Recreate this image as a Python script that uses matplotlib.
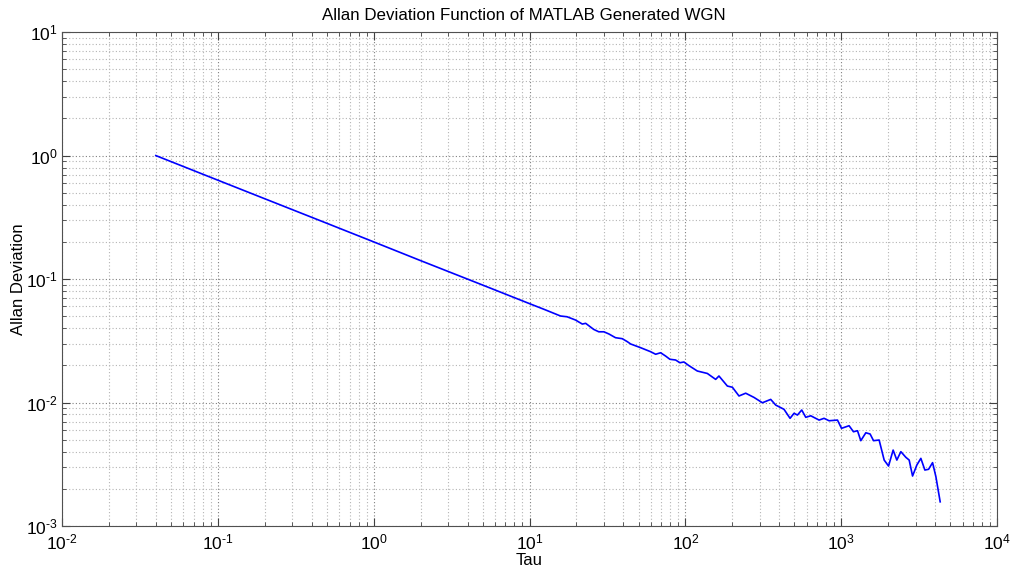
import matplotlib
matplotlib.use("Agg")
import matplotlib.pyplot as plt
from matplotlib.ticker import LogLocator, NullFormatter, FixedLocator

plt.rcParams["font.family"] = ["Liberation Sans", "DejaVu Sans"]
plt.rcParams["mathtext.fontset"] = "custom"
plt.rcParams["mathtext.rm"] = "Liberation Sans"
plt.rcParams["mathtext.it"] = "Liberation Sans"

# Allan deviation (tau, adev)
tau = [0.04, 0.1, 0.2, 0.5, 1.0, 2.0, 5.0, 10.0, 12.5,
       15.8, 17.4, 19.7, 21.8, 22.9, 25.8, 27.8, 30.0, 32.3, 35.6,
       39.3, 42.4, 44.5, 51.6, 59.8, 64.4, 69.3, 74.6, 79.5, 86.5,
       92.2, 97.8, 105.3, 119.2, 138.2, 156.3, 164.1, 185.8, 200.1, 220.6,
       243.6, 275.4, 311.8, 352.5, 379.5, 429.1, 469.1, 497.6, 523.2, 557.5,
       591.6, 637.1, 720.2, 775.3, 834.8, 945.3, 1003, 1122, 1197, 1271,
       1334, 1437, 1531, 1610, 1749, 1884, 2010, 2151, 2272, 2411,
       2596, 2726, 2866, 3054, 3240, 3437, 3631, 3852, 4045, 4310]
adev = [1.0, 0.632, 0.447, 0.283, 0.2, 0.141, 0.0894, 0.0632, 0.0566,
        0.0502, 0.0495, 0.0466, 0.0432, 0.0438, 0.0391, 0.0374, 0.0374, 0.0359, 0.0335,
        0.0329, 0.0311, 0.0298, 0.0278, 0.0258, 0.0246, 0.0253, 0.0238, 0.0224, 0.0221,
        0.0210, 0.0213, 0.0199, 0.0180, 0.0172, 0.0154, 0.0164, 0.0136, 0.0133, 0.0113,
        0.0119, 0.0110, 0.00996, 0.0106, 0.00954, 0.00881, 0.00745, 0.00818, 0.00792, 0.00870,
        0.00759, 0.00781, 0.00721, 0.00745, 0.00712, 0.00721, 0.00618, 0.00649, 0.00580, 0.00591,
        0.00491, 0.00569, 0.00556, 0.00491, 0.00497, 0.00342, 0.00306, 0.00412, 0.00342, 0.00400,
        0.00360, 0.00342, 0.00254, 0.00312, 0.00353, 0.00284, 0.00288, 0.00326, 0.00251, 0.00157]

x_decades = [-2, -1, 0, 1, 2, 3, 4]
y_decades = [-3, -2, -1, 0, 1]


def decade_label(d):
    # short hyphen like MATLAB's superscript, not the wide math minus
    exp = str(d).replace("-", "\u2010")
    return r"$10^{%s}$" % exp


fig = plt.figure(figsize=(10.11, 5.73), dpi=100)
ax = fig.add_axes([0.0613, 0.082, 0.925, 0.862])
ax.loglog(tau, adev, color="#0000ff", linewidth=1.2)

ax.set_xlim(1e-2, 1e4)
ax.set_ylim(1e-3, 1e1)
ax.xaxis.set_major_locator(FixedLocator([10.0 ** d for d in x_decades]))
ax.yaxis.set_major_locator(FixedLocator([10.0 ** d for d in y_decades]))
ax.set_xticklabels([decade_label(d) for d in x_decades])
ax.set_yticklabels([decade_label(d) for d in y_decades])
ax.xaxis.set_minor_locator(LogLocator(base=10, subs=range(2, 10), numticks=20))
ax.yaxis.set_minor_locator(LogLocator(base=10, subs=range(2, 10), numticks=20))
ax.xaxis.set_minor_formatter(NullFormatter())
ax.yaxis.set_minor_formatter(NullFormatter())

ax.tick_params(which="both", direction="in", top=True, right=True, colors="#404040",
               labelcolor="black")
ax.tick_params(which="major", length=6, labelsize=12.5)
ax.tick_params(which="minor", length=3)
ax.tick_params(axis="x", which="major", pad=5)
ax.tick_params(axis="y", which="major", pad=3)
ax.grid(True, which="major", linestyle=(0, (1, 2)), color="#808080", linewidth=0.8)
ax.grid(True, which="minor", linestyle=(0, (1, 2)), color="#b4b4b4", linewidth=0.8)
for s in ax.spines.values():
    s.set_color("#505050")

ax.set_title("Allan Deviation Function of MATLAB Generated WGN", fontsize=12.2, pad=9, x=0.494)
ax.set_xlabel("Tau", fontsize=12)
ax.set_ylabel("Allan Deviation", fontsize=12)
ax.xaxis.set_label_coords(0.5, -0.055)
ax.yaxis.set_label_coords(-0.038, 0.5)

fig.savefig("out.png", dpi=100, facecolor="white")
